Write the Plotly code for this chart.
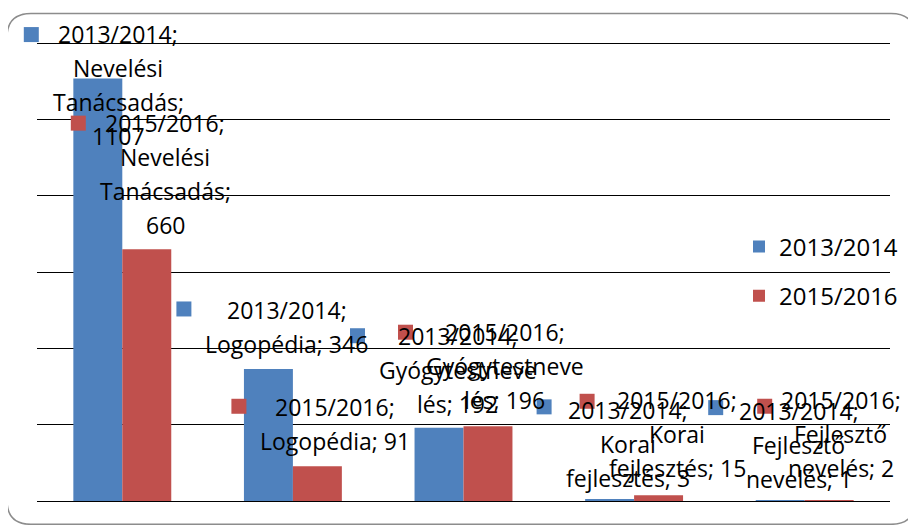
import plotly.graph_objects as go

categories = ["Nevelési Tanácsadás", "Logopédia", "Gyógytestnevelés", "Korai fejlesztés", "Fejlesztő nevelés"]
series_names = ["2013/2014", "2015/2016"]
values_2013 = [1107, 346, 192, 3, 1]
values_2015 = [660, 91, 196, 15, 2]
grid_values = [0, 200, 400, 600, 800, 1000, 1200]

# how the data-label text wraps for each category ({v} = value)
label_wrap = {
    "Nevelési Tanácsadás": ["Nevelési", "Tanácsadás;", "{v}"],
    "Logopédia": ["Logopédia; {v}"],
    "Gyógytestnevelés": ["Gyógytestneve", "lés; {v}"],
    "Korai fejlesztés": ["Korai", "fejlesztés; {v}"],
    "Fejlesztő nevelés": ["Fejlesztő", "nevelés; {v}"],
}

colors = ["#4F81BD", "#C0504D"]
W, H = 916, 525
OX, OY = 8, 8            # default page body margin
YMAX = 1250
L, R, B = 37, 890, 500.7
T = B - YMAX * (458.0 / 1200)
FONT = "Open Sans"
XR = (-0.5, len(categories) - 0.5)

fig = go.Figure()
for name, vals, col in zip(series_names, [values_2013, values_2015], colors):
    fig.add_trace(go.Bar(x=categories, y=vals, name=name, marker_color=col,
                         marker_line_width=0, legendgroup=name))

# label placement (layout only): text centre dx from category centre,
# first line dy from bar top, key dx from category centre, key dy from first line
label_layout = {
    (0, 0): (-4, -45, -91, 1), (1, 0): (43, -126, -44, 0),
    (0, 1): (-6, -59, -109, -1), (1, 1): (42, -59, -54, -1),
    (0, 2): (-6, -92, -106, 0), (1, 2): (41, -94, -58, 0),
    (0, 3): (-6, -90, -90, -3), (1, 3): (43, -95, -47, 1),
    (0, 4): (-6, -90, -89, -3), (1, 4): (36, -100, -40, 6),
}
LINE = 34
annotations = []
shapes = []
for s, (name, vals) in enumerate(zip(series_names, [values_2013, values_2015])):
    for c, cat in enumerate(categories):
        v = vals[c]
        lines = [name + ";"] + [t.format(v=v) for t in label_wrap[cat]]
        dx, dy, kdx, kdy = label_layout[(s, c)]
        for i, t in enumerate(lines):
            annotations.append(dict(
                x=c, y=v, xref="x", yref="y", text=t, showarrow=False,
                xanchor="center", yanchor="middle", xshift=dx,
                yshift=-(dy + i * LINE),
                font=dict(family=FONT, size=23, color="#000")))
        ky = -(dy + kdy)
        # legend key of the data label (paper x so it is not clipped)
        shapes.append(dict(type="rect", xref="paper", yref="y",
                           xsizemode="pixel", ysizemode="pixel",
                           xanchor=(c - XR[0]) / (XR[1] - XR[0]), yanchor=v,
                           x0=kdx - 7.5, x1=kdx + 7.5, y0=ky - 7.5, y1=ky + 7.5,
                           fillcolor=colors[s], line_width=0))

# rounded chart border in paper coordinates
def px(x):
    return (x - L) / (R - L)
def py(y):
    return (B - y) / (B - T)
x0, y0, x1, y1, r = 7, 13, 915, 524, 24
path = (f"M {px(x0 + r)},{py(y0)} L {px(x1 - r)},{py(y0)} "
        f"Q {px(x1)},{py(y0)} {px(x1)},{py(y0 + r)} "
        f"L {px(x1)},{py(y1 - r)} Q {px(x1)},{py(y1)} {px(x1 - r)},{py(y1)} "
        f"L {px(x0 + r)},{py(y1)} Q {px(x0)},{py(y1)} {px(x0)},{py(y1 - r)} "
        f"L {px(x0)},{py(y0 + r)} Q {px(x0)},{py(y0)} {px(x0 + r)},{py(y0)} Z")
shapes.append(dict(type="path", xref="paper", yref="paper", path=path,
                   line=dict(color="#8c8c8c", width=1.5), layer="below"))

fig.update_layout(
    width=W - OX, height=H - OY,
    margin=dict(l=L - OX, r=W - R, t=T - OY, b=H - B, pad=0),
    paper_bgcolor="white", plot_bgcolor="white",
    barmode="group", bargap=0.426, bargroupgap=0,
    showlegend=True,
    legend=dict(x=px(739), y=py(224), xanchor="left", yanchor="top",
                font=dict(family=FONT, size=24, color="#000"),
                bgcolor="rgba(0,0,0,0)", tracegroupgap=15, traceorder="grouped",
                itemsizing="constant"),
    xaxis=dict(showticklabels=False, showgrid=False, showline=False, ticks="",
               range=list(XR)),
    yaxis=dict(range=[0, YMAX], tickvals=grid_values,
               showticklabels=False, ticks="",
               showgrid=True, gridcolor="#000", gridwidth=1.3,
               zeroline=True, zerolinecolor="#000", zerolinewidth=1.3,
               showline=False),
    annotations=annotations, shapes=shapes,
)
fig.write_html("out.html")
